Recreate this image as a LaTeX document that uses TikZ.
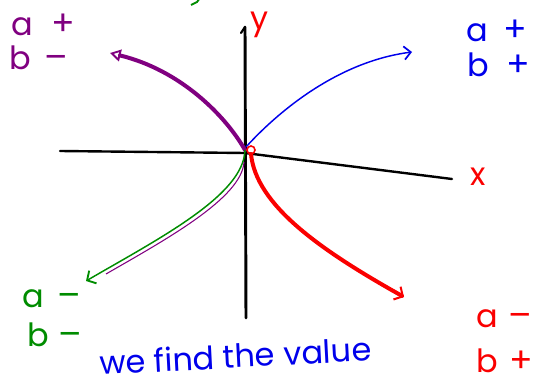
\documentclass[tikz,border=0pt]{standalone}
\usepackage{fontspec}
\setmainfont{Poppins}
\usetikzlibrary{arrows.meta}
\definecolor{hpurple}{RGB}{128,0,128}
\definecolor{hblue}{RGB}{0,0,235}
\definecolor{hgreen}{RGB}{0,140,0}
\definecolor{hred}{RGB}{250,0,0}
\newcommand{\sg}[1]{{\fontsize{26}{28}\selectfont #1}}
\tikzset{
  lbl/.style={inner sep=0pt, font=\fontsize{24}{26}\selectfont},
  row/.style={inner sep=0pt, anchor=base west, font=\fontsize{24}{26}\selectfont},
  axis/.style={black, line width=1.8pt, line cap=round},
}
\begin{document}
\begin{tikzpicture}[x=0.75pt,y=-0.75pt]
\useasboundingbox (0,0) rectangle (533,385);
\clip (0,0) rectangle (533,385);
% axes
\coordinate (xl) at (60,151);
\coordinate (xm) at (245,153);
\coordinate (xr) at (452,179);
\coordinate (yt) at (245,27);
\coordinate (yb) at (246,318);
\coordinate (O) at (247,150);
\draw[axis] (xl) -- (xm) -- (xr);
\draw[axis, line width=2.2pt] (yt) -- (yb);
\draw[axis, line width=1.6pt] (yt) -- (241,33);
% end points
\coordinate (bE) at (412,52);
\coordinate (pE) at (110,53);
\coordinate (gE) at (86,281);
\coordinate (tE) at (106,274);
\coordinate (rE) at (404,297);
% blue
\draw[hblue, line width=1.1pt, -{Straight Barb[length=5pt,width=10pt,line width=1.3pt]}]
  (246,147) .. controls (275,115) and (335,62) .. (bE);
% purple thick
\draw[hpurple, line width=3pt, line cap=round, -{Triangle[open,length=8pt,width=9pt,line width=1.4pt]}]
  (245,150) .. controls (225,115) and (180,70) .. (pE);
% green
\draw[hgreen, line width=1.1pt, -{Straight Barb[length=5pt,width=11pt,line width=1.4pt]}]
  (245,150) .. controls (244,195) and (160,238) .. (gE);
% purple thin
\draw[hpurple, line width=0.8pt]
  (244,162) .. controls (242,198) and (165,240) .. (tE);
% red thick
\draw[hred, line width=3pt, line cap=round, -{Straight Barb[length=5pt,width=11pt,line width=1.5pt]}]
  (251,154) .. controls (256,205) and (320,250) .. (rE);
\node[draw=hred, line width=1.2pt, circle, minimum size=6pt, inner sep=0pt] (oc) at (251,150) {};
% green stroke at top edge
\draw[hgreen, line width=1.4pt] (191,5) -- (197,2) -- (200,-2);
% axis labels
\node[lbl, text=hred] (ylab) at (260,25) {y};
\node[lbl, text=hred] (xlab) at (478,177) {x};
% purple labels
\node[row, text=hpurple] (prow1) at (11,36) {a\hspace{14pt}\sg{+}};
\node[row, text=hpurple] (prow2) at (9,70) {b\hspace{10pt}\sg{–}};
% blue labels
\node[row, text=hblue] (brow1) at (466,42) {a\hspace{12pt}\sg{+}};
\node[row, text=hblue] (brow2) at (467,77) {b\hspace{13pt}\sg{+}};
% green labels
\node[row, text=hgreen] (grow1) at (22,307) {a\hspace{10pt}\sg{–}};
\node[row, text=hgreen] (grow2) at (27,346) {b\hspace{7pt}\sg{–}};
% red labels
\node[row, text=hred] (rrow1) at (476,328) {a\hspace{8pt}\sg{–}};
\node[row, text=hred] (rrow2) at (476,373) {b\hspace{9pt}\sg{+}};
% bottom text
\node[lbl, text=hblue, anchor=base west, rotate=3] (note) at (100,375) {we find the value};
\end{tikzpicture}
\end{document}
